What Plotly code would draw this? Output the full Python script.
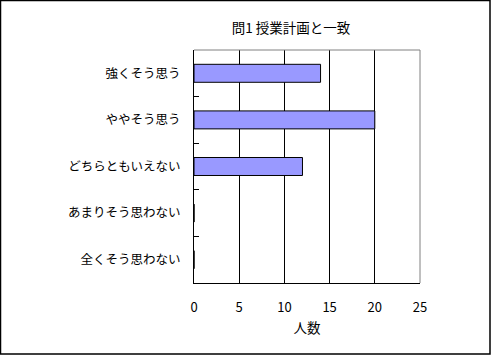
import plotly.graph_objects as go

categories = ["強くそう思う", "ややそう思う", "どちらともいえない", "あまりそう思わない", "全くそう思わない"]
counts = [14, 20, 12, 0, 0]
x_ticks = [0, 5, 10, 15, 20, 25]
title_text = "問1 授業計画と一致"
x_title = "人数"

FONT = "Noto Sans CJK JP"

fig = go.Figure()
fig.add_trace(go.Bar(
    y=categories, x=counts, orientation="h",
    marker=dict(color="#9999FF", line=dict(color="black", width=1)),
    hoverinfo="skip",
))

fig.update_layout(
    width=492, height=356,
    margin=dict(l=194, r=72, t=50, b=73),
    paper_bgcolor="white", plot_bgcolor="white",
    showlegend=False,
    bargap=0.614,
    font=dict(family=FONT, size=12, color="black"),
    title=dict(text=title_text, x=291/492, xref="container", xanchor="center",
               y=1-28/356, yref="container", yanchor="middle",
               font=dict(family=FONT, size=13.5, color="black")),
    xaxis=dict(range=[0, 25], tickvals=x_ticks, ticks="", showgrid=True,
               gridcolor="black", gridwidth=1, showline=True, linecolor="black",
               linewidth=1, zeroline=False, ticklabelstandoff=12,
               title=dict(text=x_title, standoff=8, font=dict(family=FONT, size=13.5)),
               tickfont=dict(family=FONT, size=13), fixedrange=True),
    yaxis=dict(autorange="reversed", ticks="inside", tickson="boundaries",
               ticklen=5, tickcolor="black", tickwidth=1, showline=True,
               linecolor="black", linewidth=1, showgrid=False,
               ticklabelstandoff=10, tickfont=dict(family=FONT, size=12.5),
               fixedrange=True),
    shapes=[
        dict(type="line", xref="paper", yref="paper", x0=0, x1=1, y0=1, y1=1,
             line=dict(color="#808080", width=1), layer="above"),
        dict(type="line", xref="paper", yref="paper", x0=1, x1=1, y0=0, y1=1,
             line=dict(color="#808080", width=1), layer="above"),
        dict(type="rect", xref="paper", yref="paper",
             x0=-193.5/226, x1=1+70/226, y0=-71/233, y1=1+49.5/233,
             line=dict(color="black", width=1.5), layer="above"),
    ],
)

fig.write_html("out.html", config={"displayModeBar": False},
               post_script="document.body.style.margin='0';document.body.style.overflow='hidden';")
